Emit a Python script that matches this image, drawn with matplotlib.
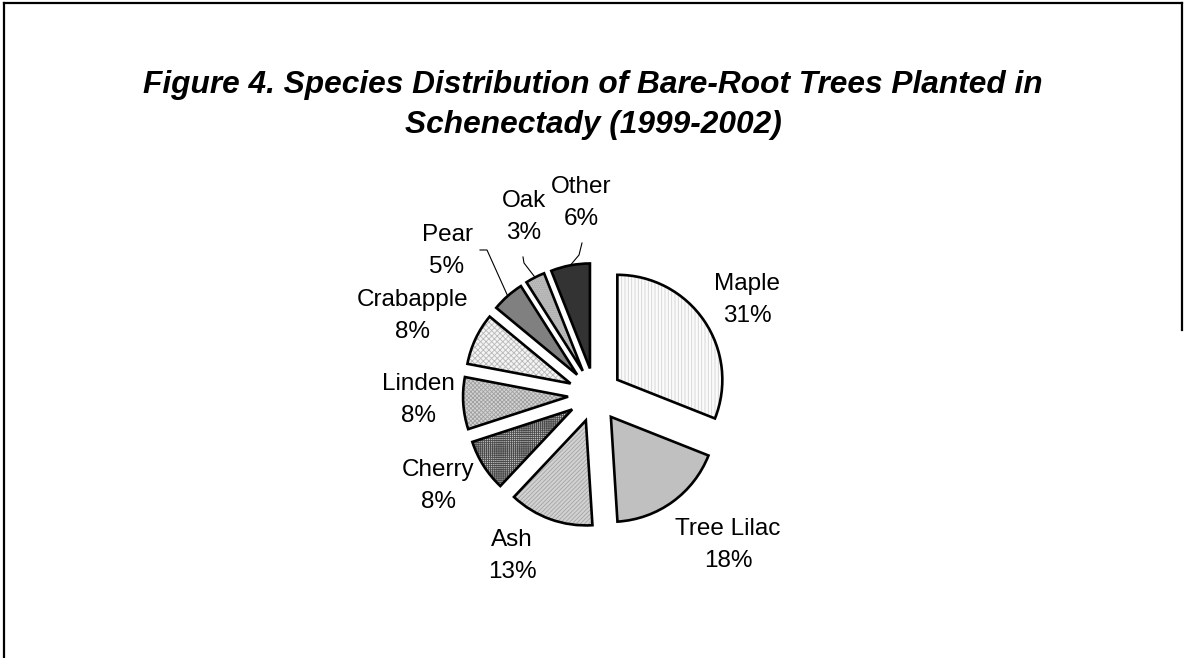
import matplotlib
matplotlib.use("Agg")
import matplotlib.pyplot as plt
from matplotlib.lines import Line2D
import numpy as np

W, H = 1185, 658

species = ["Maple", "Tree Lilac", "Ash", "Cherry", "Linden",
           "Crabapple", "Pear", "Oak", "Other"]
shares = [31, 18, 13, 8, 8, 8, 5, 3, 6]

# fill / hatch styles per slice (face, hatch, hatch colour)
faces = ["#fbfbfb", "#c0c0c0", "#d2d2d2", "#c0c0c0", "#d4d4d4",
         "#f4f4f4", "#808080", "#bcbcbc", "#333333"]
hatches = ["|||||", None, "////////", "++++++++", "xxxxxxxx", "xxxxxx", None, "........", None]
hatch_cols = ["#d2d2d2", None, "#a4a4a4", "#4a4a4a", "#a0a0a0",
              "#b8b8b8", None, "#a8a8a8", None]

# label centres in pixels (x, y from top) and leader lines (offsets from label)
label_pos = [(747, 300), (728, 545), (512, 556), (438, 486), (418, 400),
             (413, 316), (447, 251), (524, 217), (581, 203)]
leaders = {6: [(33, -1), (40, -1)], 7: [(-1, 40), (0, 46)], 8: [(1, 40), (-2, 52)]}

plt.rcParams["font.family"] = ["Liberation Sans", "DejaVu Sans"]
plt.rcParams["hatch.linewidth"] = 0.6

fig = plt.figure(figsize=(W / 100, H / 100), dpi=100)
fig.patch.set_facecolor("white")
ax = fig.add_axes([0, 0, 1, 1])

center = (595, H - 395)
radius = 105
explode = [27] * len(shares)

# fill + hatch layer
wedges, _ = ax.pie(shares, explode=explode, center=center, radius=radius,
                   startangle=90, counterclock=False, colors=faces,
                   wedgeprops=dict(linewidth=0), frame=True)
for w, h, hc in zip(wedges, hatches, hatch_cols):
    if h:
        w.set_hatch(h)
        w.set_edgecolor(hc)
        w.set_linewidth(0)

# outline layer
outl, _ = ax.pie(shares, explode=explode, center=center, radius=radius,
                 startangle=90, counterclock=False, frame=True,
                 wedgeprops=dict(fill=False, edgecolor="black", linewidth=1.9))
ax.set_xlim(0, W)
ax.set_ylim(0, H)
ax.set_axis_off()

for i, (name, val) in enumerate(zip(species, shares)):
    lx, ly = label_pos[i]
    ax.text(lx, H - ly, f"{name}\n{val}%", ha="center", va="center",
            fontsize=17.5, linespacing=1.58)
    if i in leaders:
        w = outl[i]
        th = np.deg2rad((w.theta1 + w.theta2) / 2)
        cx, cy = w.center
        ox, oy = cx + radius * np.cos(th), cy + radius * np.sin(th)
        (ex, ey), (bx, by) = leaders[i]
        ax.plot([lx + ex, lx + bx, ox], [H - (ly + ey), H - (ly + by), oy],
                color="black", lw=0.8)

fig.text(593 / W, 1 - 105 / H,
         "Figure 4. Species Distribution of Bare-Root Trees Planted in\nSchenectady (1999-2002)",
         ha="center", va="center", fontsize=22.8, fontweight="bold",
         fontstyle="italic", linespacing=1.42)

# page border (left, top, right)
fig.add_artist(Line2D([4 / W, 4 / W], [0, 1 - 3 / H], transform=fig.transFigure,
                      color="black", lw=1.6))
fig.add_artist(Line2D([4 / W, 1182 / W], [1 - 3 / H, 1 - 3 / H],
                      transform=fig.transFigure, color="black", lw=1.6))
fig.add_artist(Line2D([1182 / W, 1182 / W], [1 - 3 / H, 1 - 330 / H],
                      transform=fig.transFigure, color="black", lw=1.6))

fig.savefig("out.png", dpi=100, facecolor="white")
